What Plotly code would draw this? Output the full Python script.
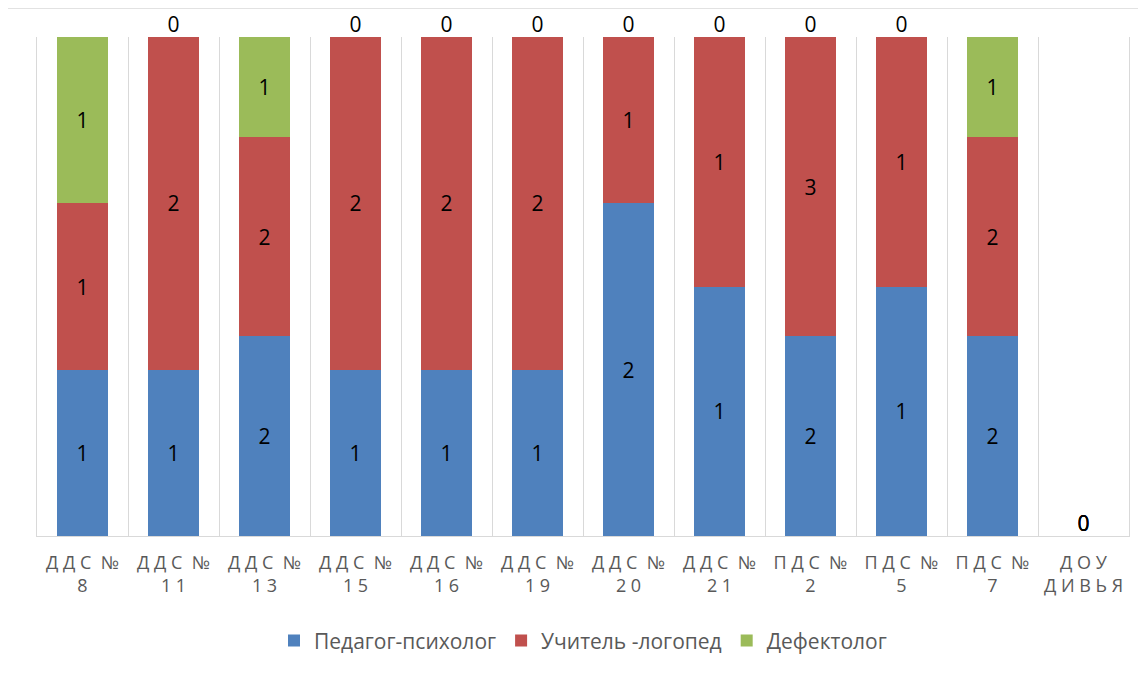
import plotly.graph_objects as go

categories = ["Д Д С  №<br>8", "Д Д С  №<br>1 1", "Д Д С  №<br>1 3", "Д Д С  №<br>1 5",
              "Д Д С  №<br>1 6", "Д Д С  №<br>1 9", "Д Д С  №<br>2 0", "Д Д С  №<br>2 1",
              "П Д С  №<br>2", "П Д С  №<br>5", "П Д С  №<br>7", "Д О У<br>Д И В Ь Я"]
psychologist = [1, 1, 2, 1, 1, 1, 2, 1, 2, 1, 2, 0]
speech = [1, 2, 2, 2, 2, 2, 1, 1, 3, 1, 2, 0]
defectologist = [1, 0, 1, 0, 0, 0, 0, 0, 0, 0, 1, 0]

series = [
    ("Педагог-психолог", psychologist, "#4F81BD"),
    ("Учитель -логопед", speech, "#C0504D"),
    ("Дефектолог", defectologist, "#9BBB59"),
]

totals = [a + b + c for a, b, c in zip(psychologist, speech, defectologist)]

def pct(vals):
    return [v / t * 100 if t else 0 for v, t in zip(vals, totals)]

FONT = "Open Sans"
fig = go.Figure()
zx, zy = [], []
cum = [0.0] * len(categories)
for name, vals, color in series:
    p = pct(vals)
    fig.add_trace(go.Bar(
        x=categories, y=p, name=name, marker=dict(color=color, line=dict(width=0)),
        text=[str(v) if v else "" for v in vals], textposition="inside",
        insidetextanchor="middle", textangle=0,
        textfont=dict(color="black", size=21, family=FONT),
        hoverinfo="skip", width=0.56,
    ))
    for i, v in enumerate(vals):
        cum[i] += p[i]
        if v == 0:
            zx.append(categories[i])
            zy.append(cum[i])

fig.add_trace(go.Scatter(
    x=zx, y=zy, mode="text", text=["0"] * len(zx), textposition="top center",
    textfont=dict(color="black", size=21, family=FONT), showlegend=False, hoverinfo="skip",
    cliponaxis=False,
))

fig.update_layout(
    barmode="stack",
    width=1146, height=674,
    margin=dict(l=29, r=25, t=29, b=146, autoexpand=False),
    paper_bgcolor="white", plot_bgcolor="white",
    font=dict(family=FONT, color="#595959"),
    legend=dict(orientation="h", x=0.5, xanchor="center", y=-0.21, yanchor="middle",
                font=dict(size=21, color="#595959", family=FONT),
                itemwidth=30, traceorder="normal"),
    xaxis=dict(type="category", tickson="boundaries", showgrid=True, gridcolor="#D9D9D9",
               showline=True, linecolor="#D9D9D9", ticks="", tickangle=0,
               ticklabelstandoff=10,
               tickfont=dict(size=18, color="#595959"),
               range=[-0.5, 11.5], automargin=False),
    yaxis=dict(range=[0, 100], showgrid=False, zeroline=False, showticklabels=False,
               showline=True, linecolor="#D9D9D9", mirror=True, ticks="", automargin=False),
    shapes=[dict(type="rect", xref="paper", yref="paper", x0=(7 - 37) / 1092, x1=1.1,
                 y0=-0.5, y1=(536 - 8) / 499, line=dict(color="#D9D9D9", width=1.5),
                 fillcolor="rgba(0,0,0,0)", layer="below")],
)

fig.write_html("out.html")
